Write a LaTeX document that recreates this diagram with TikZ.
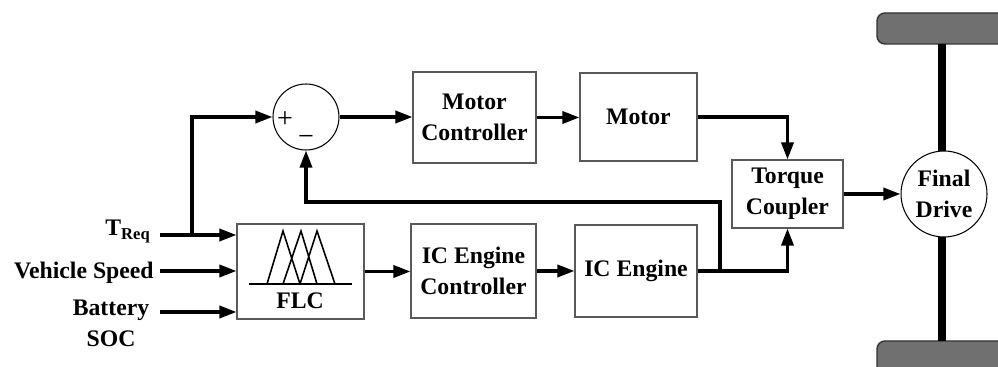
\documentclass[tikz,border=0pt]{standalone}
\usepackage{fontspec}
\setmainfont{Liberation Serif}
\usetikzlibrary{arrows.meta}
\definecolor{wheelgray}{RGB}{112,112,112}
\begin{document}
\begin{tikzpicture}[x=0.02cm,y=-0.02cm,
  bigfont/.style={font=\fontsize{13.5}{17.5}\selectfont\bfseries},
  blk/.style={draw=black!65,line width=0.6pt,fill=white,inner sep=0pt,align=center,bigfont},
  lbl/.style={inner sep=0pt,align=center,bigfont},
  sig/.style={line width=1.9pt,-{Triangle[length=0.34cm,width=0.24cm]}},
  wire/.style={line width=1.9pt},
  wheel/.style={draw=black!80,line width=0.8pt,fill=wheelgray,rounded corners=0.16cm},
  signfont/.style={inner sep=0pt,font=\fontsize{16}{16}\selectfont},
]
\useasboundingbox (0,0) rectangle (998,367);
% wheels and axle
\begin{scope}
  \clip (0,0) rectangle (998,367);
  \draw[wheel] (877,13) rectangle (1030,44);
  \draw[wheel] (877,341) rectangle (1030,400);
\end{scope}
\coordinate (axtop) at (942,44);
\coordinate (axbot) at (942,341);
\draw[line width=4.5pt] (axtop) -- (axbot);
\node[circle,draw,line width=0.6pt,fill=white,minimum size=1.72cm,inner sep=0pt,lbl] (fd) at (944,194) {Final\\Drive};

% blocks
\node[blk,minimum width=2.46cm,minimum height=1.82cm] (mc) at (474.5,117.5) {Motor\\Controller};
\node[blk,minimum width=2.34cm,minimum height=1.76cm] (mot) at (638.5,117) {Motor};
\node[blk,minimum width=2.5cm,minimum height=1.88cm] (icec) at (473.5,271) {IC Engine\\Controller};
\node[blk,minimum width=2.44cm,minimum height=1.84cm] (ice) at (636,271) {IC Engine};
\node[blk,minimum width=2.54cm,minimum height=1.9cm] (flc) at (300.5,271.5) {};
\node[blk,minimum width=2.22cm,minimum height=1.36cm] (tc) at (787.5,194) {Torque\\Coupler};

% FLC membership functions
\draw[line width=0.9pt] (249,284) -- (352,284);
\draw[line width=0.9pt,line join=miter]
  (267,284) -- (283,231) -- (300,284)
  (283,284) -- (301,231) -- (317,284)
  (300,284) -- (317,231) -- (335,284);
\node[lbl] (flct) at (300,301) {FLC};

% summing junction
\node[circle,draw,line width=0.6pt,minimum size=1.32cm,inner sep=0pt] (sum) at (306,117) {};
\node[signfont] (plus) at (285,120) {+};
\node[signfont] (minus) at (306,140) {−};

% input labels
\node[lbl,anchor=base east] (treq) at (151,236) {T\textsubscript{Req}};
\node[lbl,anchor=base east] (vs) at (154,279) {Vehicle Speed};
\node[lbl] (soc) at (111,323) {Battery\\SOC};

% input arrows
\coordinate (tin) at (160,235);
\coordinate (vin) at (160,271);
\coordinate (bin) at (160,312);
\draw[sig] (tin) -- (tin -| flc.west);
\draw[sig] (vin) -- (vin -| flc.west);
\draw[sig] (bin) -- (bin -| flc.west);
\coordinate (br) at (192,235);
\draw[sig] (br) |- (sum.west);

% forward paths
\draw[sig] (sum.east) -- (sum.east -| mc.west);
\draw[sig] (mc.east) -- (mc.east -| mot.west);
\draw[sig] (mot.east) -| (tc.north);
\draw[sig] (flc.east) -- (flc.east -| icec.west);
\draw[sig] (icec.east) -- (icec.east -| ice.west);
\draw[sig] (ice.east) -| (tc.south);
\draw[sig] (tc.east) -- (fd.west);

% feedback
\coordinate (j) at (720,271);
\coordinate (fb) at (720,202);
\draw[sig] (j) -- (fb) -| (sum.south);
\end{tikzpicture}
\end{document}
